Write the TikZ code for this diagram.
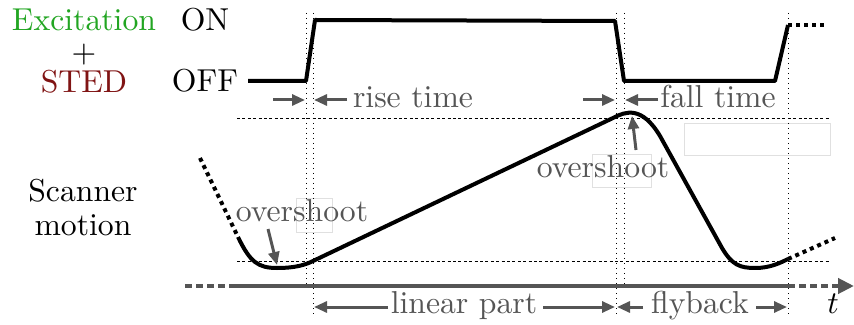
\documentclass[tikz,border=0pt]{standalone}
\usetikzlibrary{arrows.meta}
\definecolor{excgreen}{RGB}{34,165,34}
\definecolor{stedred}{RGB}{128,20,20}
\definecolor{annot}{RGB}{85,85,85}
\begin{document}
\begin{tikzpicture}[x=0.5pt,y=-0.5pt,
  txt/.style={anchor=base,inner sep=0pt,font=\fontsize{10}{12}\selectfont,scale=1.585},
  gtxt/.style={txt,text=annot},
  signal/.style={line width=2pt,line join=round},
  dotsig/.style={line width=2pt,dash pattern=on 2pt off 2pt},
  vguide/.style={line width=0.5pt,dotted},
  hguide/.style={line width=0.5pt,dash pattern=on 1.5pt off 1.2pt},
  garrow/.style={draw=annot,line width=1.5pt,-{Triangle[length=6.5pt,width=5.5pt]}},
  axisline/.style={draw=annot,line width=2pt},
  ghostbox/.style={draw=black!12,line width=0.4pt}]
\useasboundingbox (0,0) rectangle (854,325);
% ghost boxes
\draw[ghostbox] (684,123) rectangle (830,155);
\draw[ghostbox] (592,154) rectangle (651,187);
\draw[ghostbox] (296,198) rectangle (332,232);
% guides
\draw[vguide] (306,13) -- (306,285);
\draw[vguide] (313,13) -- (313,317);
\draw[vguide] (616,13) -- (616,317);
\draw[vguide] (624,13) -- (624,285);
\draw[vguide] (788,13) -- (788,317);
\draw[hguide] (237,119) -- (830,119);
\draw[hguide] (237,261) -- (830,261);
% labels left
\node[txt,text=excgreen] (exc) at (84,31) {Excitation};
\node[txt] (plus) at (84,63) {+};
\node[txt,text=stedred] (sted) at (84,93) {STED};
\node[txt] (on) at (205,31) {ON};
\node[txt] (off) at (205,92) {OFF};
\node[txt] (scan) at (83,202) {Scanner};
\node[txt] (mot) at (83,235) {motion};
% signal
\coordinate (s0) at (248,81);
\coordinate (s1) at (306,81);
\coordinate (s2) at (315,20);
\coordinate (s3) at (615,21);
\coordinate (s4) at (624,81);
\coordinate (s5) at (775,81);
\coordinate (s6) at (788,25);
\coordinate (s7) at (825,25);
\draw[signal] (s0) -- (s1) -- (s2) -- (s3) -- (s4) -- (s5) -- (s6);
\draw[dotsig] (s6) -- (s7);
% time axis
\coordinate (a0) at (185,286);
\coordinate (a1) at (233,286);
\coordinate (a2) at (788,286);
\coordinate (a3) at (854,286);
\draw[axisline,dash pattern=on 3.5pt off 2pt] (a0) -- (a1);
\draw[axisline] (a1) -- (a2);
\draw[axisline,dash pattern=on 3.5pt off 2pt,-{Triangle[length=8pt,width=7.5pt]}] (a2) -- (a3);
\node[txt] (t) at (833,313) {$t$};
% scanner motion
\coordinate (m0) at (200,158);
\coordinate (m1) at (238,237);
\coordinate (m2) at (313,261);
\coordinate (m3) at (613,118);
\coordinate (m4) at (788,259);
\coordinate (m5) at (835,238);
\draw[dotsig] (m0) -- (m1);
\draw[signal] (m1) .. controls (250,262) and (258,268) .. (277,268)
  .. controls (295,268) and (305,265) .. (m2) -- (m3)
  .. controls (626,111) and (642,106) .. (660,136) -- (722,248)
  .. controls (732,265) and (740,268) .. (755,268)
  .. controls (770,268) and (780,263) .. (m4);
\draw[dotsig] (m4) -- (m5);
% rise / fall time
\node[gtxt] (rise) at (413,108) {rise time};
\node[gtxt] (fall) at (718,108) {fall time};
\coordinate (r0) at (273,100); \coordinate (r1) at (305,100);
\coordinate (r2) at (347,100); \coordinate (r3) at (314,100);
\draw[garrow] (r0) -- (r1);
\draw[garrow] (r2) -- (r3);
\coordinate (f0) at (583,100); \coordinate (f1) at (615,100);
\coordinate (f2) at (658,100); \coordinate (f3) at (625,100);
\draw[garrow] (f0) -- (f1);
\draw[garrow] (f2) -- (f3);
% overshoot labels
\node[gtxt] (os1) at (603,178) {overshoot};
\node[gtxt] (os2) at (302,222) {overshoot};
\coordinate (o1a) at (636,150); \coordinate (o1b) at (632,116);
\coordinate (o2a) at (268,229); \coordinate (o2b) at (277,265);
\draw[garrow] (o1a) -- (o1b);
\draw[garrow] (o2a) -- (o2b);
% linear part / flyback
\node[gtxt] (lin) at (464,313) {linear part};
\node[gtxt] (fly) at (700,313) {flyback};
\coordinate (l0) at (388,307); \coordinate (l1) at (314,307);
\coordinate (l2) at (543,307); \coordinate (l3) at (615,307);
\draw[garrow] (l0) -- (l1);
\draw[garrow] (l2) -- (l3);
\coordinate (b0) at (643,307); \coordinate (b1) at (617,307);
\coordinate (b2) at (756,307); \coordinate (b3) at (787,307);
\draw[garrow] (b0) -- (b1);
\draw[garrow] (b2) -- (b3);
\end{tikzpicture}
\end{document}
